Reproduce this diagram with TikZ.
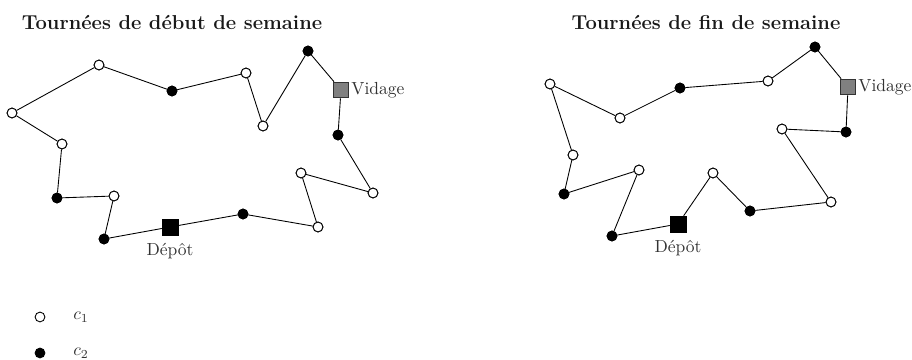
\documentclass[tikz,border=0pt]{standalone}
\begin{document}
\begin{tikzpicture}[x=0.5714pt,y=-0.5714pt,
  cA/.style={circle,draw=black,fill=white,line width=0.5pt,inner sep=0pt,minimum size=5.6pt},
  cB/.style={circle,draw=black,fill=black,line width=0.5pt,inner sep=0pt,minimum size=5.6pt},
  depot/.style={rectangle,draw=black,fill=black,inner sep=0pt,minimum size=9pt},
  vidage/.style={rectangle,draw=black!80,fill=black!50,line width=0.5pt,inner sep=0pt,minimum size=9pt},
  lbl/.style={text=black!80,font=\normalsize,inner sep=1pt},
  ttl/.style={font=\fontsize{11.5}{14}\selectfont\bfseries,text=black!90},
  route/.style={line width=0.5pt}]
\useasboundingbox (0,0) rectangle (912,360);

% ---------- left: début de semaine ----------
\node[ttl] (t1) at (172,22) {Tournées de début de semaine};
\node[cA] (L1) at (12,113) {};
\node[cA] (L2) at (99,65) {};
\node[cB] (L3) at (172,91) {};
\node[cA] (L4) at (246,73) {};
\node[cA] (L5) at (263,126) {};
\node[cB] (L6) at (308,51) {};
\node[vidage] (LV) at (341,90) {};
\node[cB] (L8) at (338,135) {};
\node[cA] (L9) at (373,193) {};
\node[cA] (L10) at (301,173) {};
\node[cA] (L11) at (318,227) {};
\node[cB] (L12) at (243,214) {};
\node[depot] (LD) at (170,227) {};
\node[cB] (L14) at (104,239) {};
\node[cA] (L15) at (114,196) {};
\node[cB] (L16) at (57,198) {};
\node[cA] (L17) at (62,144) {};
\node[lbl,anchor=west] (LVt) at (LV.east) {Vidage};
\node[lbl,anchor=north] (LDt) at ([yshift=-3.5pt]LD.south) {Dépôt};
\draw[route] (LD) -- (L12) -- (L11) -- (L10) -- (L9) -- (L8) -- (LV) -- (L6) -- (L5) -- (L4) -- (L3) -- (L2) -- (L1) -- (L17) -- (L16) -- (L15) -- (L14) -- (LD);

% ---------- right: fin de semaine ----------
\node[ttl] (t2) at (706,22) {Tournées de fin de semaine};
\node[cA] (Ra) at (550,84) {};
\node[cA] (Rb) at (620,118) {};
\node[cB] (Rc) at (680,88) {};
\node[cA] (Rd) at (768,81) {};
\node[cB] (Re) at (815,47) {};
\node[vidage] (RV) at (848,87) {};
\node[cB] (Rg) at (846,132) {};
\node[cA] (Rh) at (782,129) {};
\node[cA] (Ri) at (831,202) {};
\node[cB] (Rj) at (750,211) {};
\node[cA] (Rk) at (713,173) {};
\node[depot] (RD) at (678,224) {};
\node[cB] (Rm) at (612,236) {};
\node[cA] (Rn) at (639,170) {};
\node[cB] (Ro) at (564,194) {};
\node[cA] (Rp) at (573,155) {};
\node[lbl,anchor=west] (RVt) at (RV.east) {Vidage};
\node[lbl,anchor=north] (RDt) at ([yshift=-3.5pt]RD.south) {Dépôt};
\draw[route] (RD) -- (Rk) -- (Rj) -- (Ri) -- (Rh) -- (Rg) -- (RV) -- (Re) -- (Rd) -- (Rc) -- (Rb) -- (Ra) -- (Rp) -- (Ro) -- (Rn) -- (Rm) -- (RD);

% ---------- legend ----------
\node[cA] (k1) at (40,317) {};
\node[lbl] (k1t) at (81,317) {$c_1$};
\node[cB] (k2) at (40,353) {};
\node[lbl] (k2t) at (81,353) {$c_2$};

% re-draw nodes on top
\foreach \n in {L1,L2,L4,L5,L9,L10,L11,L15,L17,Ra,Rb,Rd,Rh,Ri,Rk,Rn,Rp}{\node[cA] at (\n) {};}
\foreach \n in {L3,L6,L8,L12,L14,L16,Rc,Re,Rg,Rj,Rm,Ro}{\node[cB] at (\n) {};}
\node[vidage] at (LV) {};
\node[vidage] at (RV) {};
\node[depot] at (LD) {};
\node[depot] at (RD) {};
\end{tikzpicture}
\end{document}
